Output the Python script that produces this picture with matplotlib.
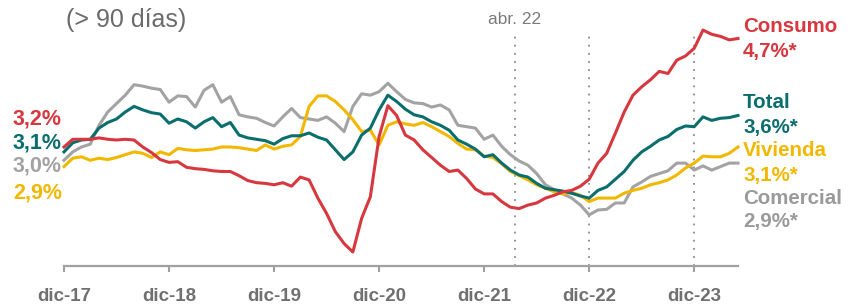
import numpy as np
import matplotlib
matplotlib.use("Agg")
import matplotlib.pyplot as plt
from matplotlib import transforms, font_manager

# monthly NPL ratios (> 90 days), Dec 2017 .. May 2024
consumo = [3.20, 3.31, 3.31, 3.31, 3.33, 3.31, 3.30, 3.31, 3.30, 3.20, 3.12, 3.02, 2.98, 2.99, 2.91, 2.89, 2.88, 2.86, 2.85,
           2.85, 2.79, 2.72, 2.69, 2.68, 2.66, 2.69, 2.64, 2.77, 2.73, 2.47, 2.25, 1.99, 1.82, 1.70, 2.18, 2.49, 3.35, 3.79, 3.65,
           3.37, 3.30, 3.16, 3.05, 2.94, 2.85, 2.87, 2.75, 2.60, 2.53, 2.53, 2.42, 2.34, 2.32, 2.37, 2.40, 2.47, 2.51, 2.56,
           2.58, 2.64, 2.74, 2.97, 3.11, 3.40, 3.70, 3.94, 4.06, 4.16, 4.28, 4.25, 4.44, 4.50, 4.61, 4.87, 4.81, 4.78, 4.73, 4.75]
total = [3.13, 3.26, 3.30, 3.31, 3.47, 3.55, 3.60, 3.70, 3.78, 3.73, 3.69, 3.67, 3.54, 3.60, 3.56, 3.47, 3.56, 3.62, 3.49,
         3.55, 3.37, 3.33, 3.31, 3.29, 3.24, 3.32, 3.36, 3.36, 3.40, 3.34, 3.30, 3.16, 3.02, 3.13, 3.37, 3.47, 3.73, 3.94, 3.85,
         3.74, 3.66, 3.63, 3.56, 3.51, 3.44, 3.30, 3.24, 3.17, 3.06, 3.09, 2.97, 2.87, 2.80, 2.77, 2.68, 2.61, 2.59, 2.57,
         2.54, 2.50, 2.47, 2.58, 2.63, 2.74, 2.85, 3.01, 3.13, 3.21, 3.30, 3.35, 3.45, 3.50, 3.49, 3.63, 3.58, 3.61, 3.62, 3.65]
vivienda = [2.92, 3.04, 3.06, 3.01, 3.04, 3.02, 3.05, 3.09, 3.13, 3.11, 3.05, 3.13, 3.09, 3.18, 3.16, 3.15, 3.16, 3.17, 3.20,
            3.20, 3.19, 3.17, 3.15, 3.23, 3.17, 3.21, 3.23, 3.35, 3.78, 3.93, 3.93, 3.85, 3.73, 3.59, 3.42, 3.44, 3.23, 3.51, 3.56,
            3.53, 3.51, 3.55, 3.49, 3.42, 3.35, 3.25, 3.17, 3.16, 3.07, 3.05, 2.96, 2.85, 2.79, 2.73, 2.66, 2.61, 2.56, 2.53,
            2.55, 2.51, 2.42, 2.47, 2.47, 2.47, 2.54, 2.58, 2.61, 2.66, 2.69, 2.73, 2.80, 2.90, 2.97, 3.07, 3.06, 3.06, 3.11, 3.20]
comercial = [3.01, 3.13, 3.20, 3.24, 3.51, 3.70, 3.82, 3.94, 4.09, 4.07, 4.04, 4.02, 3.84, 3.93, 3.92, 3.77, 4.01, 4.09, 3.84,
             3.92, 3.66, 3.63, 3.61, 3.55, 3.50, 3.63, 3.75, 3.62, 3.60, 3.58, 3.63, 3.54, 3.42, 3.78, 3.96, 3.94, 3.99, 4.11, 3.99,
             3.88, 3.83, 3.82, 3.77, 3.80, 3.73, 3.51, 3.49, 3.47, 3.31, 3.37, 3.21, 3.09, 3.00, 2.94, 2.82, 2.66, 2.59, 2.53,
             2.47, 2.37, 2.23, 2.30, 2.31, 2.40, 2.40, 2.63, 2.70, 2.78, 2.82, 2.86, 2.97, 2.97, 2.87, 2.93, 2.87, 2.92, 2.97, 2.97]

tick_pos = [0, 12, 24, 36, 48, 60, 72]
tick_labels = ["dic-17", "dic-18", "dic-19", "dic-20", "dic-21", "dic-22", "dic-23"]
marker_pos = [51.5, 60, 72]
marker_label = "abr. 22"

start_labels = ["3,2%", "3,1%", "3,0%", "2,9%"]
end_names = ["Consumo", "Total", "Vivienda", "Comercial"]
end_values = ["4,7%*", "3,6%*", "3,1%*", "2,9%*"]

RED, TEAL, YELLOW, GRAY = "#d7373e", "#0b6e6e", "#f2b800", "#a3a3a3"
TXT = "#707070"

# condensed face for the date labels if we have it
try:
    font_manager.findfont("Liberation Sans Narrow", fallback_to_default=False)
    tick_font, tick_size = "Liberation Sans Narrow", 15
except ValueError:
    tick_font, tick_size = "Liberation Sans", 13.5

fig = plt.figure(figsize=(8.48, 3.05), dpi=100)
ax = fig.add_axes([64 / 848, 39 / 305, 674 / 848, 246 / 305])

x = np.arange(len(consumo))
for ys, c in [(comercial, GRAY), (vivienda, YELLOW), (total, TEAL), (consumo, RED)]:
    ax.plot(x, ys, color=c, lw=2.2, solid_joinstyle="round", clip_on=False)

for m in marker_pos:
    ax.axvline(m, ymin=0, ymax=0.951, color="#8a8a8a", lw=1.3, ls=(0, (1, 3.5)), zorder=0)

ax.set_xlim(0, 77)
ax.set_ylim(1.5, 5.014)
for s in ["top", "right", "left"]:
    ax.spines[s].set_visible(False)
ax.spines["bottom"].set_color("#a0a0a0")
ax.spines["bottom"].set_linewidth(1.6)
ax.set_yticks([])
ax.set_xticks(tick_pos)
ax.set_xticklabels(tick_labels, family=[tick_font, "DejaVu Sans"],
                   fontweight="bold", fontsize=tick_size, color=TXT)
ax.tick_params(axis="x", direction="out", length=4.5, width=1.5, color="#a0a0a0", pad=11)

bold = dict(family=["Liberation Sans", "DejaVu Sans"], fontweight="bold")
cols = [RED, TEAL, GRAY, YELLOW]
left_y = [119, 142.5, 166, 193]
for lab, c, py in zip(start_labels, cols, left_y):
    fig.text(62 / 848, 1 - py / 305, lab, color=c, ha="right", va="center", fontsize=15.5, **bold)

end_cols = [RED, TEAL, YELLOW, "#9a9a9a"]
name_y = [26.5, 103, 150, 198]
val_y = [52, 128, 175, 222]
for name, val, c, py1, py2 in zip(end_names, end_values, end_cols, name_y, val_y):
    fig.text(743 / 848, 1 - py1 / 305, name, color=c, ha="left", va="center", fontsize=14.8, **bold)
    fig.text(743 / 848, 1 - py2 / 305, val, color=c, ha="left", va="center", fontsize=14.8, **bold)

fig.text(66 / 848, 1 - 19.5 / 305, "(> 90 días)", color="#6b6b6b", ha="left", va="center",
         family=["Liberation Sans", "DejaVu Sans"], fontsize=18)
trans = transforms.blended_transform_factory(ax.transData, fig.transFigure)
ax.text(marker_pos[0], 1 - 19 / 305, marker_label, transform=trans, color="#7a7a7a",
        ha="center", va="center", family=["Liberation Sans", "DejaVu Sans"], fontsize=12.5)

fig.savefig("out.png", dpi=100)
